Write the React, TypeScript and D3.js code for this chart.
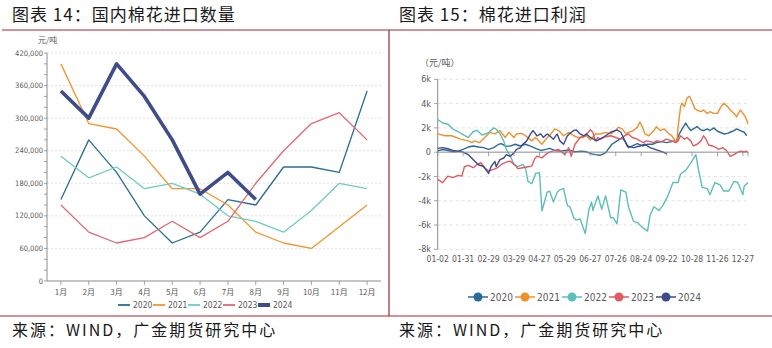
import React from 'react';
import * as d3 from 'd3';

// ---------- Left chart data: 国内棉花进口数量 ----------
const months = ['1月', '2月', '3月', '4月', '5月', '6月', '7月', '8月', '9月', '10月', '11月', '12月'];
const imp2020 = [150000, 260000, 200000, 120000, 70000, 90000, 150000, 140000, 210000, 210000, 200000, 350000];
const imp2021 = [400000, 290000, 280000, 230000, 170000, 170000, 140000, 90000, 70000, 60000, 100000, 140000];
const imp2022 = [230000, 190000, 210000, 170000, 180000, 160000, 120000, 110000, 90000, 130000, 180000, 170000];
const imp2023 = [140000, 90000, 70000, 80000, 110000, 80000, 110000, 180000, 240000, 290000, 310000, 260000];
const imp2024 = [350000, 300000, 400000, 340000, 260000, 160000, 200000, 150000];
const leftTicks = [0, 60000, 120000, 180000, 240000, 300000, 360000, 420000];
const years = ['2020', '2021', '2022', '2023', '2024'];

// ---------- Right chart data: 棉花进口利润 (trading-day index, 元/吨) ----------
const dateLabels = ['01-02', '01-31', '02-29', '03-29', '04-27', '05-29', '06-27', '07-26', '08-24', '09-22', '10-28', '11-26', '12-27'];
const rightTicks = [-8000, -6000, -4000, -2000, 0, 2000, 4000, 6000];

const p2020: [number, number][] = [
  [0, 100], [4, 220], [8, 140], [12, 30], [16, 80], [20, 230], [24, 420], [28, 510], [32, 420], [36, 370],
  [40, 230], [44, 370], [48, 650], [50, 700], [53, 510], [57, 500], [61, 650], [65, 510], [69, 650], [73, 500],
  [77, 310], [81, 140], [85, 230], [88, 310], [92, 140], [96, 85], [100, 140], [104, 140], [108, 30], [113, 85],
  [117, 30], [121, -140], [124, -200], [128, -250], [132, -60], [134, 230], [137, 650], [141, 930], [145, 1210],
  [148, 790], [150, 370], [153, 510], [157, 700], [161, 510], [165, 650], [169, 650], [172, 790], [176, 870],
  [180, 790], [184, 870], [188, 990], [190, 1500], [193, 2060], [195, 2400], [197, 2060], [199, 1780], [201, 1920],
  [204, 2110], [207, 1830], [209, 1780], [212, 1920], [214, 1780], [217, 2000], [220, 1720], [222, 1640], [225, 1500],
  [228, 1550], [230, 1640], [233, 1780], [235, 1920], [238, 1780], [241, 1640], [243, 1350],
];
const p2021: [number, number][] = [
  [0, 1500], [6, 1350], [11, 1350], [18, 1070], [24, 930], [27, 790], [29, 930], [33, 790], [37, 1210], [41, 1630],
  [45, 1500], [49, 1780], [53, 1210], [56, 1630], [60, 1210], [62, 1500], [66, 1550], [69, 1350], [74, 930], [77, 1210],
  [82, 650], [85, 1070], [89, 1500], [92, 1920], [95, 1780], [99, 1350], [103, 1630], [107, 1350], [110, 1210],
  [114, 1210], [117, 1350], [120, 1000], [124, 1500], [128, 1500], [132, 1635], [136, 1500], [140, 1780], [142, 2060],
  [145, 1920], [148, 1500], [150, 1635], [154, 1780], [157, 2060], [159, 2480], [161, 2060], [163, 1500], [166, 1350],
  [170, 1780], [172, 2100], [175, 1780], [178, 1920], [182, 1500], [184, 1350], [188, 790], [189, 2060], [191, 3750],
  [192, 4030], [194, 3750], [196, 4450], [198, 4600], [200, 4170], [202, 3610], [204, 3470], [207, 3330], [209, 3470],
  [212, 3190], [214, 3330], [217, 3190], [220, 3190], [222, 3610], [225, 4030], [228, 3750], [230, 3470], [233, 3190],
  [235, 2900], [238, 3470], [240, 3190], [242, 2900], [244, 2340],
];
const p2022: [number, number][] = [
  [0, 2680], [4, 2400], [8, 2300], [12, 1900], [16, 1700], [20, 1450], [24, 1200], [28, 1700], [31, 1800], [35, 1400],
  [40, 1600], [44, 2000], [46, 1900], [49, 1500], [52, 900], [54, 200], [57, -300], [60, -1000], [63, -1200], [67, -1000],
  [69, -1300], [71, -2400], [74, -2600], [77, -1750], [80, -1700], [82, -4850], [86, -3300], [88, -3200], [91, -4100],
  [94, -3300], [96, -3100], [99, -3000], [102, -4400], [104, -4500], [107, -5400], [109, -5600], [112, -5500],
  [115, -6400], [116, -6700], [119, -4700], [121, -4100], [122, -4800], [126, -3600], [129, -4700], [132, -3600],
  [136, -5400], [138, -5400], [141, -5900], [144, -3100], [148, -3300], [150, -4500], [154, -5700], [157, -5800],
  [161, -6200], [165, -6500], [167, -5200], [170, -4500], [174, -4800], [177, -4400], [181, -3600], [185, -2500],
  [189, -2500], [191, -1800], [195, -1500], [199, -900], [203, -200], [205, -1400], [208, -2900], [212, -3000],
  [214, -3500], [218, -2500], [222, -2700], [225, -3200], [229, -3200], [233, -2400], [236, -2500], [240, -3500],
  [241, -2800], [244, -2500],
];
const p2023: [number, number][] = [
  [0, -2240], [4, -2510], [8, -1970], [12, -2100], [16, -1910], [19, -1970], [21, -1200], [24, -1090], [28, -1280],
  [31, -1010], [34, -870], [37, -1280], [40, -1550], [44, -1420], [47, -1280], [50, -1010], [54, -820], [57, -740],
  [61, -1090], [63, -1360], [67, -1280], [71, -1200], [74, -1150], [76, -600], [78, -330], [82, -470], [85, -190],
  [88, 0], [92, 140], [95, 220], [100, -200], [103, 370], [105, -340], [108, 650], [112, 1210], [116, 1350],
  [120, 1840], [122, 1640], [124, 930], [126, 1210], [128, 1070], [132, 1270], [136, 1350], [140, 1210], [144, 1070],
  [147, 1350], [150, 1500], [153, 1210], [157, 1070], [159, 930], [162, 790], [164, 930], [167, 870], [170, 790],
  [172, 930], [176, 870], [180, 1070], [184, 930], [187, 790], [189, 930], [191, 1350], [194, 1070], [196, 1210],
  [199, 930], [201, 510], [204, 650], [207, 930], [209, 1350], [211, 1070], [213, 590], [216, 510], [219, 370],
  [221, 230], [224, 370], [227, 140], [230, -340], [233, -200], [235, -60], [238, 85], [241, 30], [243, 85], [244, -60],
];
const p2024: [number, number][] = [
  [0, 310], [4, 370], [8, 280], [12, 140], [16, 85], [20, 0], [24, -200], [28, -620], [32, -1040], [36, -1180],
  [39, -1600], [40, -1750], [42, -1180], [45, -760], [46, -1180], [49, -620], [52, -480], [54, -200], [57, -340],
  [60, -60], [62, 230], [65, 370], [67, 650], [70, 930], [73, 1500], [75, 1780], [78, 1350], [81, 1500], [83, 1210],
  [86, 1500], [88, 1350], [91, 1070], [94, 1500], [96, 930], [99, 650], [102, 1350], [104, 1550], [107, 1780],
  [109, 1830], [112, 1500], [115, 1350], [117, 1500], [120, 1210], [125, 930], [130, 1210], [136, 1640], [141, 1830],
  [144, 1640], [146, 1210], [149, 510], [154, 370], [159, 510], [163, 650], [167, 370], [171, 230], [175, 85], [180, -110],
];

const leftColors = ['#2b6c96', '#f0952e', '#6fcac5', '#e06870', '#3f4c8a'];
const rightColors = ['#2a6a9c', '#f0902a', '#5cbfba', '#e05a62', '#3d4a8e'];
const RED = '#a3262c';
const AXIS = '#8c8c8c';
const GRID = '#d9d9d9';
const TXT = '#595959';
const NARROW = "'Liberation Sans Narrow', 'DejaVu Sans Condensed', 'Liberation Sans', sans-serif";
const CJK = "'Noto Sans CJK SC', sans-serif";

function LeftChart() {
  const x = d3.scaleBand<string>().domain(months).range([47, 381]).padding(0);
  const y = d3.scaleLinear().domain([0, 420000]).range([281, 53]);
  const cx = (m: string) => (x(m) as number) + x.bandwidth() / 2;
  const series = [imp2020, imp2021, imp2022, imp2023, imp2024];
  const line = d3.line<number>().x((_, i) => cx(months[i])).y((d) => y(d));
  const minor = d3.range(0, 420001, 20000);
  return (
    <g>
      {leftTicks.filter((t) => t > 0).map((t) => (
        <line key={'g' + t} x1={47} x2={381} y1={y(t)} y2={y(t)} stroke={GRID} strokeDasharray="2,2" strokeWidth={0.8} />
      ))}
      <line x1={47} x2={47} y1={y(420000)} y2={y(0)} stroke={AXIS} strokeWidth={1} />
      <line x1={47} x2={381} y1={y(0)} y2={y(0)} stroke={AXIS} strokeWidth={1} />
      {minor.map((t) => (
        <line key={'m' + t} x1={44} x2={47} y1={y(t)} y2={y(t)} stroke={AXIS} strokeWidth={0.8} />
      ))}
      {leftTicks.map((t) => (
        <text key={'t' + t} x={43} y={y(t)} dy="0.35em" textAnchor="end" fontSize={7.5} fill={TXT} fontFamily={NARROW}>
          {d3.format(',')(t)}
        </text>
      ))}
      {months.map((m) => (
        <g key={m}>
          <line x1={cx(m)} x2={cx(m)} y1={y(0)} y2={y(0) + 4} stroke={AXIS} strokeWidth={0.8} />
          <text x={cx(m)} y={292} dy="0.35em" textAnchor="middle" fontSize={8} fill={TXT} fontFamily={CJK}>{m}</text>
        </g>
      ))}
      <text x={38} y={43} fontSize={8} fill={TXT} fontFamily={CJK}>元/吨</text>
      {series.map((s, i) => (
        <path key={years[i]} d={line(s) as string} fill="none" stroke={leftColors[i]} strokeWidth={i === 4 ? 3.6 : 1.3} strokeLinejoin="round" />
      ))}
      {years.map((yr, i) => {
        const lx = 118 + i * 35;
        return (
          <g key={'l' + yr}>
            <line x1={lx} x2={lx + 12} y1={305} y2={305} stroke={leftColors[i]} strokeWidth={i === 4 ? 4 : 1.8} />
            <text x={lx + 15} y={305} dy="0.35em" fontSize={8.5} fill={TXT} fontFamily={NARROW}>{yr}</text>
          </g>
        );
      })}
    </g>
  );
}

function RightChart() {
  const x = d3.scaleLinear().domain([0, 244]).range([437.7, 748]);
  const y = d3.scaleLinear().domain([-8000, 6000]).range([249.3, 79.3]);
  const series = [p2020, p2021, p2022, p2023, p2024];
  const line = d3.line<[number, number]>().x((d) => x(d[0])).y((d) => y(d[1]));
  const tickIdx = dateLabels.map((_, i) => i * 20);
  const fmt = (v: number) => (v === 0 ? '0' : `${v / 1000}k`);
  return (
    <g>
      {rightTicks.filter((t) => t !== 0).map((t) => (
        <line key={'g' + t} x1={437.7} x2={748} y1={y(t)} y2={y(t)} stroke={GRID} strokeDasharray="3,3" strokeWidth={0.8} />
      ))}
      <line x1={437.7} x2={437.7} y1={y(6000)} y2={y(-8000)} stroke={AXIS} strokeWidth={1} />
      {rightTicks.map((t) => (
        <g key={'t' + t}>
          <line x1={434} x2={437.7} y1={y(t)} y2={y(t)} stroke={AXIS} strokeWidth={0.8} />
          <text x={431} y={y(t)} dy="0.35em" textAnchor="end" fontSize={9} fill={TXT} fontFamily={NARROW}>{fmt(t)}</text>
        </g>
      ))}
      {series.map((s, i) => (
        <path key={years[i]} d={line(s) as string} fill="none" stroke={rightColors[i]} strokeWidth={1.4} strokeLinejoin="round" />
      ))}
      <line x1={437.7} x2={748} y1={y(0)} y2={y(0)} stroke={AXIS} strokeWidth={1} />
      {tickIdx.map((t, i) => (
        <g key={'x' + i}>
          <line x1={x(t)} x2={x(t)} y1={y(0)} y2={y(0) + 4} stroke={AXIS} strokeWidth={0.8} />
          <text x={x(t)} y={259} dy="0.35em" textAnchor="middle" fontSize={8.5} fill={TXT} fontFamily={NARROW}>{dateLabels[i]}</text>
        </g>
      ))}
      <line x1={748} x2={748} y1={y(0)} y2={y(0) + 4} stroke={AXIS} strokeWidth={0.8} />
      <text x={420} y={63} dy="0.35em" fontSize={9} fill={TXT} fontFamily={CJK}>（元/吨）</text>
      {years.map((yr, i) => {
        const mx = 478 + i * 47;
        return (
          <g key={'l' + yr}>
            <line x1={mx - 10} x2={mx + 10} y1={297} y2={297} stroke={rightColors[i]} strokeWidth={1.5} />
            <circle cx={mx} cy={297} r={4.5} fill={rightColors[i]} />
            <text x={mx + 12} y={297} dy="0.35em" fontSize={10} fill={TXT} fontFamily={NARROW}>{yr}</text>
          </g>
        );
      })}
    </g>
  );
}

export default function App() {
  return (
    <svg width={772} height={348} style={{ position: 'absolute', left: 0, top: 0, background: '#fff' }}>
      <rect x={0} y={0} width={772} height={348} fill="#fff" />
      <text x={12} y={21} fontSize={17} letterSpacing={1} fill="#1a1a1a" fontFamily={CJK}>图表 14：国内棉花进口数量</text>
      <text x={399} y={21} fontSize={17} letterSpacing={1} fill="#1a1a1a" fontFamily={CJK}>图表 15：棉花进口利润</text>
      <line x1={2} x2={772} y1={30} y2={30} stroke={RED} strokeWidth={1.2} />
      <line x1={389} x2={389} y1={30} y2={316} stroke={RED} strokeWidth={1.2} />
      <line x1={0} x2={772} y1={316} y2={316} stroke={RED} strokeWidth={1.2} />
      <LeftChart />
      <RightChart />
      <text x={12} y={336} fontSize={16} letterSpacing={2} fill="#1a1a1a" fontFamily={CJK}>来源：WIND，广金期货研究中心</text>
      <text x={399} y={336} fontSize={16} letterSpacing={2} fill="#1a1a1a" fontFamily={CJK}>来源：WIND，广金期货研究中心</text>
    </svg>
  );
}
